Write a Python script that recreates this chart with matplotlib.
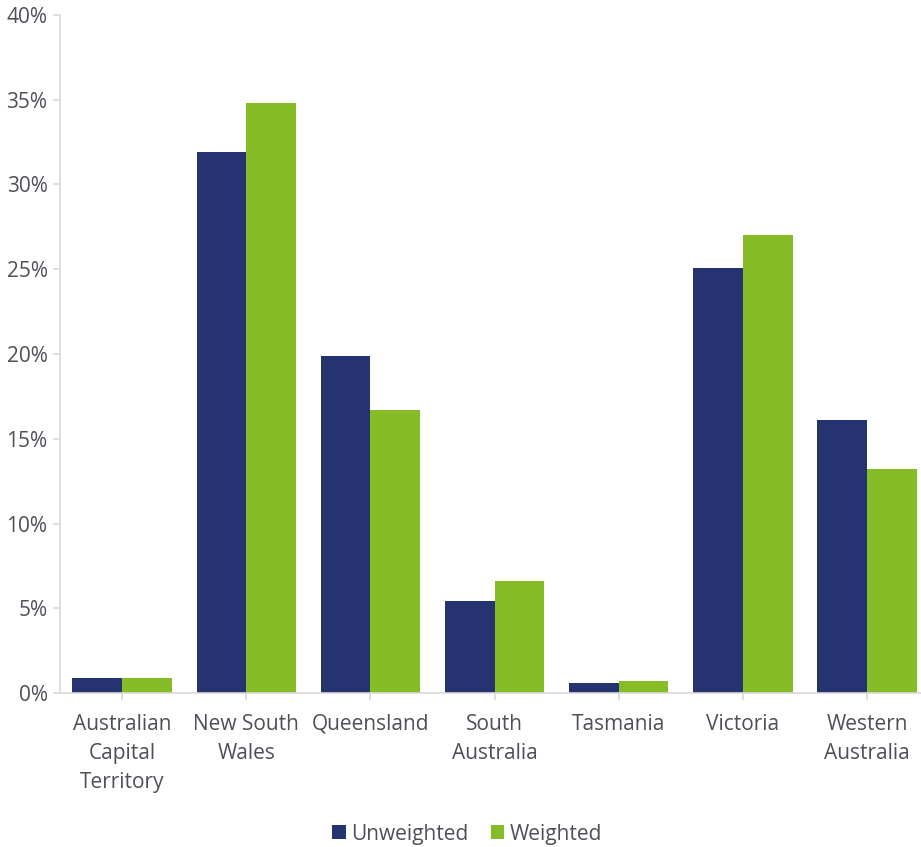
import matplotlib
matplotlib.use("Agg")
import numpy as np
from matplotlib import pyplot as plt
from matplotlib.ticker import PercentFormatter

# data (percent of respondents)
states = ['Australian\nCapital\nTerritory', 'New South\nWales', 'Queensland',
          'South\nAustralia', 'Tasmania', 'Victoria', 'Western\nAustralia']
unweighted = [0.9, 31.9, 19.9, 5.4, 0.6, 25.1, 16.1]
weighted = [0.9, 34.8, 16.7, 6.6, 0.7, 27.0, 13.2]

navy = '#253370'
green = '#86bc25'
txt = '#4f4f58'
axcol = '#d9d9d9'

plt.rcParams['font.family'] = ['Open Sans', 'DejaVu Sans']
plt.rcParams['font.size'] = 15

fig = plt.figure(figsize=(9.21, 8.47), dpi=100)
ax = fig.add_axes([60 / 921, 1 - 693 / 847, 1 - 60 / 921, (693 - 15) / 847])

x = np.arange(len(states))
w = 0.4
ax.bar(x - w / 2, unweighted, w, color=navy, label='Unweighted')
ax.bar(x + w / 2, weighted, w, color=green, label='Weighted')

ax.set_xlim(-0.5, (921 - 122) / 124.17)
ax.set_ylim(0, 40)
ax.set_yticks(range(0, 41, 5))
ax.yaxis.set_major_formatter(PercentFormatter(decimals=0))
ax.set_xticks(x)
ax.set_xticklabels(states, linespacing=1.5)

for s in ['top', 'right']:
    ax.spines[s].set_visible(False)
for s in ['left', 'bottom']:
    ax.spines[s].set_color(axcol)
    ax.spines[s].set_linewidth(1.2)
ax.tick_params(axis='both', colors=axcol, labelcolor=txt, length=5, width=1.2)
ax.tick_params(axis='x', pad=10)
ax.tick_params(axis='y', pad=4)

fig.legend(loc='center', bbox_to_anchor=(467 / 921, 1 - 834 / 847), ncol=2,
           frameon=False, handlelength=0.65, handleheight=0.65, handletextpad=0.25,
           columnspacing=1.1, labelcolor=txt, fontsize=15)

fig.savefig('out.png', dpi=100)
